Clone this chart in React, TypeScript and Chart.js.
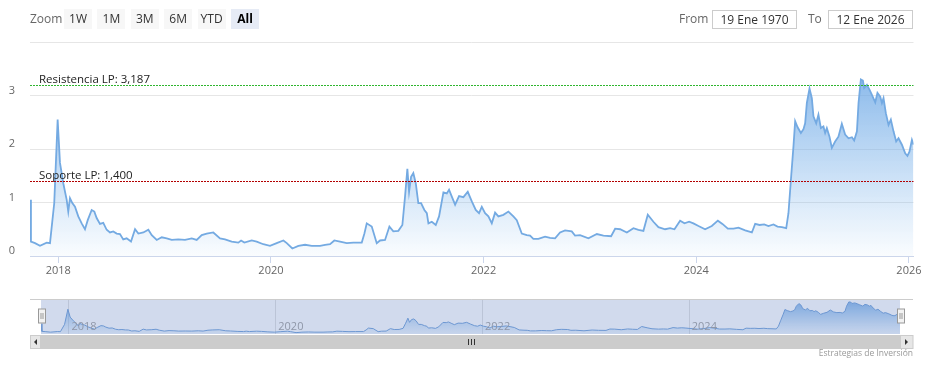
import React, { useEffect, useRef } from 'react';
import { Chart, registerables } from 'chart.js';
Chart.register(...registerables);

const FONT = '"Open Sans", "Segoe UI", sans-serif';

// Fecha (año decimal) y valor
const fechas = [
  2017.734, 2017.743, 2017.781, 2017.828, 2017.891, 2017.922, 2017.962, 2017.994, 2018.016, 2018.047,
  2018.079, 2018.094, 2018.110, 2018.132, 2018.157, 2018.188, 2018.220, 2018.251, 2018.277, 2018.314,
  2018.339, 2018.361, 2018.392, 2018.423, 2018.455, 2018.486, 2018.517, 2018.549, 2018.580, 2018.611,
  2018.643, 2018.684, 2018.722, 2018.753, 2018.800, 2018.847, 2018.879, 2018.926, 2018.973, 2019.020,
  2019.067, 2019.129, 2019.192, 2019.255, 2019.302, 2019.349, 2019.396, 2019.458, 2019.521, 2019.568,
  2019.631, 2019.693, 2019.719, 2019.750, 2019.819, 2019.866, 2019.928, 2019.991, 2020.054, 2020.117,
  2020.149, 2020.201, 2020.258, 2020.321, 2020.384, 2020.462, 2020.509, 2020.556, 2020.596, 2020.650,
  2020.713, 2020.775, 2020.854, 2020.879, 2020.901, 2020.948, 2020.995, 2021.026, 2021.073, 2021.114,
  2021.151, 2021.198, 2021.236, 2021.261, 2021.283, 2021.299, 2021.318, 2021.339, 2021.362, 2021.386,
  2021.412, 2021.443, 2021.466, 2021.481, 2021.513, 2021.550, 2021.581, 2021.622, 2021.654, 2021.675,
  2021.701, 2021.732, 2021.769, 2021.810, 2021.851, 2021.889, 2021.926, 2021.957, 2021.983, 2022.014,
  2022.045, 2022.077, 2022.108, 2022.139, 2022.186, 2022.233, 2022.280, 2022.312, 2022.359, 2022.406,
  2022.437, 2022.468, 2022.515, 2022.578, 2022.625, 2022.672, 2022.719, 2022.766, 2022.829, 2022.860,
  2022.907, 2022.986, 2023.065, 2023.127, 2023.199, 2023.237, 2023.284, 2023.347, 2023.409, 2023.456,
  2023.503, 2023.544, 2023.597, 2023.644, 2023.707, 2023.754, 2023.795, 2023.848, 2023.889, 2023.933,
  2023.973, 2024.021, 2024.083, 2024.146, 2024.203, 2024.246, 2024.297, 2024.350, 2024.397, 2024.460,
  2024.523, 2024.554, 2024.595, 2024.639, 2024.679, 2024.726, 2024.764, 2024.805, 2024.846, 2024.867,
  2024.890, 2024.914, 2024.930, 2024.952, 2024.984, 2025.008, 2025.024, 2025.040, 2025.065, 2025.087,
  2025.102, 2025.128, 2025.149, 2025.172, 2025.196, 2025.212, 2025.228, 2025.253, 2025.275, 2025.306,
  2025.337, 2025.369, 2025.400, 2025.432, 2025.464, 2025.485, 2025.511, 2025.526, 2025.548, 2025.567,
  2025.579, 2025.605, 2025.629, 2025.652, 2025.683, 2025.704, 2025.730, 2025.746, 2025.761, 2025.783,
  2025.808, 2025.830, 2025.855, 2025.880, 2025.902, 2025.934, 2025.965, 2025.986, 2026.005, 2026.028,
  2026.043,
];

const valores = [
  1.05, 0.27, 0.24, 0.19, 0.25, 0.24, 0.99, 2.55, 1.74, 1.36,
  1.05, 0.83, 1.08, 0.99, 0.92, 0.74, 0.61, 0.50, 0.67, 0.86,
  0.83, 0.71, 0.60, 0.62, 0.49, 0.44, 0.46, 0.42, 0.41, 0.31,
  0.33, 0.27, 0.50, 0.42, 0.44, 0.49, 0.39, 0.30, 0.35, 0.33,
  0.30, 0.31, 0.30, 0.33, 0.30, 0.39, 0.42, 0.44, 0.33, 0.31,
  0.27, 0.25, 0.29, 0.25, 0.29, 0.27, 0.22, 0.19, 0.24, 0.29,
  0.24, 0.14, 0.19, 0.21, 0.19, 0.19, 0.21, 0.22, 0.29, 0.27,
  0.24, 0.25, 0.25, 0.42, 0.61, 0.55, 0.24, 0.29, 0.30, 0.55,
  0.46, 0.47, 0.58, 1.11, 1.63, 1.20, 1.48, 1.55, 1.36, 0.99,
  0.99, 0.86, 0.80, 0.61, 0.64, 0.58, 0.74, 1.19, 1.17, 1.24,
  1.11, 0.96, 1.12, 1.10, 1.20, 1.02, 0.86, 0.80, 0.92, 0.80,
  0.74, 0.61, 0.81, 0.74, 0.77, 0.83, 0.74, 0.67, 0.42, 0.39,
  0.38, 0.32, 0.32, 0.36, 0.34, 0.33, 0.44, 0.48, 0.46, 0.38,
  0.39, 0.33, 0.41, 0.38, 0.37, 0.51, 0.50, 0.44, 0.52, 0.49,
  0.47, 0.77, 0.64, 0.54, 0.50, 0.52, 0.50, 0.66, 0.61, 0.64,
  0.61, 0.56, 0.50, 0.56, 0.66, 0.60, 0.51, 0.51, 0.53, 0.48,
  0.44, 0.60, 0.58, 0.59, 0.56, 0.59, 0.55, 0.54, 0.52, 0.80,
  1.42, 2.05, 2.52, 2.41, 2.30, 2.37, 2.48, 2.86, 3.13, 2.95,
  2.61, 2.48, 2.64, 2.39, 2.42, 2.30, 2.39, 2.23, 2.02, 2.14,
  2.23, 2.47, 2.27, 2.20, 2.22, 2.16, 2.33, 2.86, 3.30, 3.28,
  3.14, 3.20, 3.11, 3.01, 2.87, 3.05, 2.98, 2.86, 2.95, 2.67,
  2.45, 2.55, 2.33, 2.14, 2.20, 2.08, 1.92, 1.87, 1.95, 2.17,
  2.08,
];

const ticksX = [2018, 2020, 2022, 2024, 2026];
const ticksY = [0, 1, 2, 3, 4];
const nivelValores = [3.187, 1.4];
const nivelEtiquetas = ['Resistencia LP: 3,187', 'Soporte LP: 1,400'];
const nivelColores = ['#2fb52f', '#b30000'];
const botones = ['1W', '1M', '3M', '6M', 'YTD', 'All'];
const botonSeleccionado = 'All';
const desde = '19 Ene 1970';
const hasta = '12 Ene 2026';
const creditos = 'Estrategias de Inversión';

const xMin = fechas[0];
const xMax = fechas[fechas.length - 1];

const nivelesPlugin = {
  id: 'niveles',
  afterDatasetsDraw(chart: any) {
    const { ctx, chartArea, scales } = chart;
    const y = scales.y;
    nivelValores.forEach((v, i) => {
      const py = Math.round(y.getPixelForValue(v)) + 0.5;
      ctx.save();
      ctx.strokeStyle = nivelColores[i];
      ctx.lineWidth = 1;
      ctx.setLineDash([2, 1]);
      ctx.beginPath();
      ctx.moveTo(chartArea.left, py);
      ctx.lineTo(chartArea.right, py);
      ctx.stroke();
      ctx.setLineDash([]);
      ctx.fillStyle = '#222';
      ctx.font = `11.5px ${FONT}`;
      ctx.textBaseline = 'alphabetic';
      ctx.textAlign = 'left';
      ctx.fillText(nivelEtiquetas[i], chartArea.left + 9, py - 3);
      ctx.restore();
    });
  },
};

const navegadorPlugin = {
  id: 'navegador',
  beforeDatasetsDraw(chart: any) {
    const { ctx, chartArea, scales } = chart;
    ctx.save();
    ctx.strokeStyle = '#e0e0e0';
    ctx.lineWidth = 1;
    ticksX.forEach((t) => {
      const px = Math.round(scales.x.getPixelForValue(t)) + 0.5;
      if (px + 30 > chartArea.right) return;
      ctx.beginPath();
      ctx.moveTo(px, chartArea.top);
      ctx.lineTo(px, chartArea.bottom);
      ctx.stroke();
    });
    ctx.restore();
  },
  afterDatasetsDraw(chart: any) {
    const { ctx, chartArea, scales } = chart;
    const { left, right, top, bottom } = chartArea;
    ctx.save();
    // máscara
    ctx.fillStyle = 'rgba(102,133,194,0.3)';
    ctx.fillRect(left, top, right - left, bottom - top);
    // etiquetas
    ctx.fillStyle = '#8f97a8';
    ctx.font = `11px ${FONT}`;
    ctx.textAlign = 'left';
    ctx.textBaseline = 'alphabetic';
    ticksX.forEach((t) => {
      const px = scales.x.getPixelForValue(t);
      if (px + 30 > right) return;
      ctx.fillText(String(t), px + 3, bottom - 4);
    });
    // contorno
    ctx.strokeStyle = '#cccccc';
    ctx.lineWidth = 1;
    ctx.beginPath();
    ctx.moveTo(30, top + 0.5);
    ctx.lineTo(913, top + 0.5);
    ctx.stroke();
    // asas
    [left, right].forEach((hx) => {
      const x0 = Math.round(hx - 3.5) + 0.5;
      ctx.fillStyle = '#f2f2f2';
      ctx.strokeStyle = '#999999';
      ctx.fillRect(x0, top + 10, 7, 14);
      ctx.strokeRect(x0, top + 10, 7, 14);
      ctx.beginPath();
      ctx.moveTo(x0 + 2.5, top + 14);
      ctx.lineTo(x0 + 2.5, top + 20);
      ctx.moveTo(x0 + 4.5, top + 14);
      ctx.lineTo(x0 + 4.5, top + 20);
      ctx.stroke();
    });
    // barra de desplazamiento
    const sy = bottom + 1;
    const sh = 14;
    ctx.fillStyle = '#f2f2f2';
    ctx.fillRect(30, sy, 883, sh);
    ctx.fillStyle = '#cccccc';
    ctx.fillRect(left, sy, right - left, sh);
    ctx.fillStyle = '#e6e6e6';
    ctx.strokeStyle = '#cccccc';
    ctx.fillRect(30.5, sy + 0.5, left - 31, sh - 1);
    ctx.strokeRect(30.5, sy + 0.5, left - 31, sh - 1);
    ctx.fillRect(right + 0.5, sy + 0.5, 912.5 - right, sh - 1);
    ctx.strokeRect(right + 0.5, sy + 0.5, 912.5 - right, sh - 1);
    // flechas
    ctx.fillStyle = '#333333';
    const cy = sy + sh / 2;
    const lx = (30 + left) / 2;
    ctx.beginPath();
    ctx.moveTo(lx - 1.5, cy);
    ctx.lineTo(lx + 1.5, cy - 3);
    ctx.lineTo(lx + 1.5, cy + 3);
    ctx.closePath();
    ctx.fill();
    const rx = (913 + right) / 2;
    ctx.beginPath();
    ctx.moveTo(rx + 1.5, cy);
    ctx.lineTo(rx - 1.5, cy - 3);
    ctx.lineTo(rx - 1.5, cy + 3);
    ctx.closePath();
    ctx.fill();
    // estrías
    const mx = Math.round((left + right) / 2) + 0.5;
    ctx.strokeStyle = '#333333';
    ctx.beginPath();
    [-3, 0, 3].forEach((d) => {
      ctx.moveTo(mx + d, cy - 3);
      ctx.lineTo(mx + d, cy + 3);
    });
    ctx.stroke();
    ctx.restore();
  },
};

function gradiente(alto: number, bajo: number) {
  return (c: any) => {
    const ch = c.chart;
    const a = ch.chartArea;
    if (!a) return 'rgba(124,181,236,0.3)';
    const g = ch.ctx.createLinearGradient(0, a.top, 0, a.bottom);
    g.addColorStop(0, `rgba(108,166,228,${alto})`);
    g.addColorStop(1, `rgba(124,181,236,${bajo})`);
    return g;
  };
}

export default function App() {
  const mainRef = useRef<HTMLCanvasElement>(null);
  const navRef = useRef<HTMLCanvasElement>(null);

  useEffect(() => {
    const puntos = fechas.map((x, i) => ({ x, y: valores[i] }));
    const main = new Chart(mainRef.current as HTMLCanvasElement, {
      type: 'line',
      data: {
        datasets: [
          {
            data: puntos,
            borderColor: '#74aae2',
            borderWidth: 1.8,
            pointRadius: 0,
            tension: 0,
            fill: 'origin',
            backgroundColor: gradiente(0.95, 0.04),
          },
        ],
      },
      options: {
        animation: false,
        responsive: false,
        maintainAspectRatio: false,
        layout: { padding: { top: 42, left: 0, right: 14.5, bottom: 0 } },
        plugins: { legend: { display: false }, tooltip: { enabled: false } },
        scales: {
          x: {
            type: 'linear',
            min: xMin,
            max: xMax,
            afterBuildTicks: (s: any) => {
              s.ticks = ticksX.map((v) => ({ value: v }));
            },
            afterFit: (s: any) => {
              s.height = 34;
            },
            ticks: {
              autoSkip: false,
              maxRotation: 0,
              color: '#666666',
              font: { family: FONT, size: 11 },
              padding: 1,
              callback: (v: any) => String(v),
            },
            grid: { drawOnChartArea: false, tickLength: 7, color: '#ccd6eb' },
            border: { color: '#ccd6eb' },
          },
          y: {
            min: 0,
            max: 4,
            afterBuildTicks: (s: any) => {
              s.ticks = ticksY.map((v) => ({ value: v }));
            },
            afterFit: (s: any) => {
              s.width = 30;
            },
            ticks: {
              color: '#666666',
              font: { family: FONT, size: 11 },
              padding: 15,
              labelOffset: -5,
              callback: (v: any) => (v === 4 ? '' : String(v)),
            },
            grid: { color: '#e6e6e6', drawTicks: false },
            border: { display: false },
          },
        },
      } as any,
      plugins: [nivelesPlugin],
    });

    const nav = new Chart(navRef.current as HTMLCanvasElement, {
      type: 'line',
      data: {
        datasets: [
          {
            data: puntos,
            borderColor: '#6f9fd8',
            borderWidth: 1,
            pointRadius: 0,
            tension: 0,
            fill: 'origin',
            backgroundColor: gradiente(0.9, 0.1),
          },
        ],
      },
      options: {
        animation: false,
        responsive: false,
        maintainAspectRatio: false,
        layout: { padding: { top: 9, left: 41, right: 28, bottom: 33 } },
        plugins: { legend: { display: false }, tooltip: { enabled: false } },
        scales: {
          x: { type: 'linear', min: xMin, max: xMax, display: false },
          y: { min: 0, max: 3.6, display: false },
        },
      } as any,
      plugins: [navegadorPlugin],
    });

    return () => {
      main.destroy();
      nav.destroy();
    };
  }, []);

  const boton = (t: string, i: number) => {
    const sel = t === botonSeleccionado;
    return (
      <div
        key={t}
        style={{
          position: 'absolute',
          left: 64 + i * 33.4,
          top: 9,
          width: 28,
          height: 20,
          lineHeight: '20px',
          textAlign: 'center',
          background: sel ? '#e6ebf5' : '#f7f7f7',
          color: sel ? '#000' : '#333',
          fontWeight: sel ? 'bold' : 'normal',
          fontSize: 12,
        }}
      >
        {t}
      </div>
    );
  };

  const caja = (texto: string, left: number) => (
    <div
      style={{
        position: 'absolute',
        left,
        top: 10,
        width: 83,
        height: 17,
        lineHeight: '17px',
        border: '1px solid #cccccc',
        textAlign: 'center',
        fontSize: 12,
        color: '#333',
      }}
    >
      {texto}
    </div>
  );

  return (
    <div
      style={{
        position: 'fixed',
        left: 0,
        top: 0,
        width: 928,
        height: 367,
        background: '#fff',
        fontFamily: FONT,
        overflow: 'hidden',
      }}
    >
      <canvas ref={mainRef} width={928} height={290} style={{ position: 'absolute', left: 0, top: 0 }} />
      <canvas ref={navRef} width={928} height={77} style={{ position: 'absolute', left: 0, top: 290 }} />
      <div style={{ position: 'absolute', left: 30, top: 9, height: 20, lineHeight: '20px', fontSize: 12, color: '#666' }}>Zoom</div>
      {botones.map(boton)}
      <div style={{ position: 'absolute', left: 679, top: 9, height: 20, lineHeight: '20px', fontSize: 12, color: '#666' }}>From</div>
      {caja(desde, 712)}
      <div style={{ position: 'absolute', left: 808, top: 9, height: 20, lineHeight: '20px', fontSize: 12, color: '#666' }}>To</div>
      {caja(hasta, 828)}
      <div
        style={{
          position: 'absolute',
          right: 15,
          top: 347,
          fontSize: 8.5,
          lineHeight: '12px',
          color: '#999',
        }}
      >
        {creditos}
      </div>
    </div>
  );
}
